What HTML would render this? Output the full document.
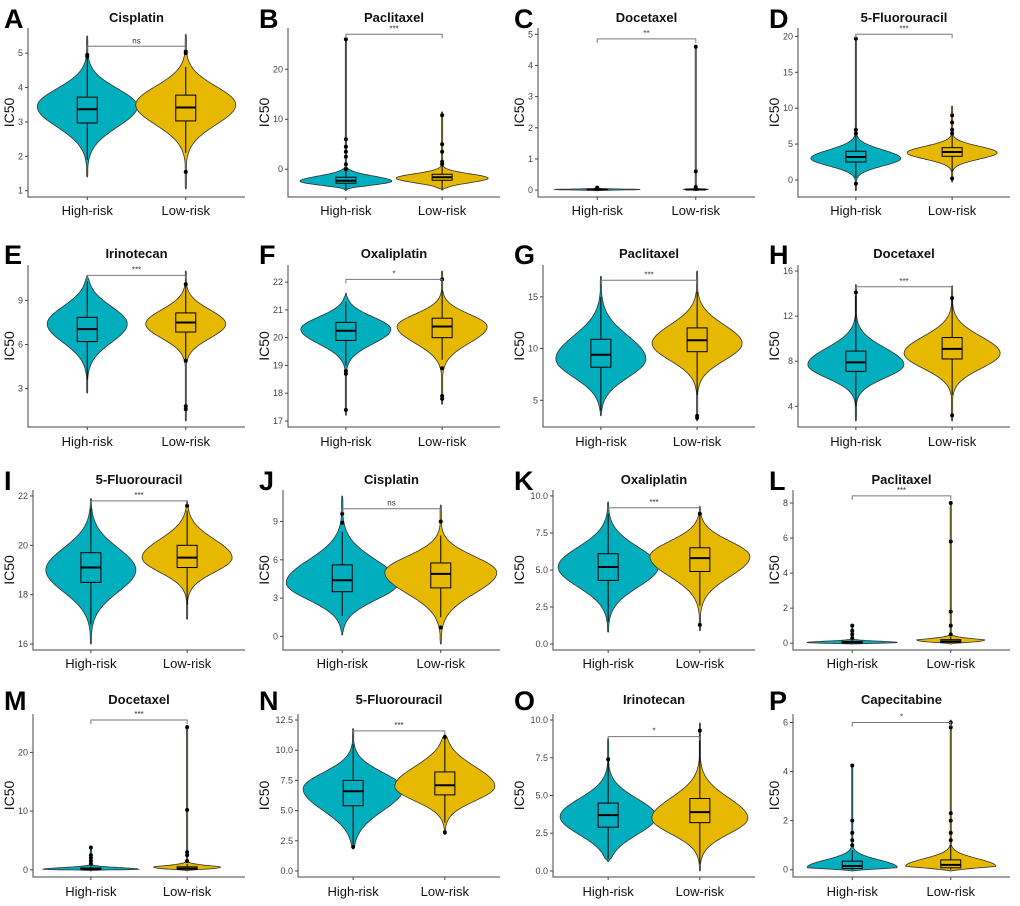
<!DOCTYPE html>
<html><head><meta charset="utf-8">
<style>
html,body{margin:0;padding:0;background:#fff;}
svg{display:block;font-family:"Liberation Sans",Arial,sans-serif;}
</style></head>
<body>
<svg id="fig" width="1020" height="906" viewBox="0 0 1020 906" xmlns="http://www.w3.org/2000/svg"></svg>
<script>
const letters = ["A","B","C","D","E","F","G","H","I","J","K","L","M","N","O","P"];
const titles = ["Cisplatin","Paclitaxel","Docetaxel","5-Fluorouracil","Irinotecan","Oxaliplatin","Paclitaxel","Docetaxel","5-Fluorouracil","Cisplatin","Oxaliplatin","Paclitaxel","Docetaxel","5-Fluorouracil","Irinotecan","Capecitabine"];
const categories = ["High-risk","Low-risk"];
const sigLabels = ["ns","***","**","***","***","*","***","***","***","ns","***","***","***","***","*","*"];
const bracketVals = [5.2,27,4.85,20.3,10.7,22.1,16.6,14.6,21.8,10,9.2,8.4,25.5,11.6,8.9,6.0];
const tickVals = [[1,2,3,4,5],[0,10,20],[0,1,2,3,4,5],[0,5,10,15,20],[3,6,9],[17,18,19,20,21,22],[5,10,15],[4,8,12,16],[16,18,20,22],[0,3,6,9],[0,2.5,5,7.5,10],[0,2,4,6,8],[0,10,20],[0,2.5,5,7.5,10,12.5],[0,2.5,5,7.5,10],[0,2,4,6]];
const tickLabels = [["1","2","3","4","5"],["0","10","20"],["0","1","2","3","4","5"],["0","5","10","15","20"],["3","6","9"],["17","18","19","20","21","22"],["5","10","15"],["4","8","12","16"],["16","18","20","22"],["0","3","6","9"],["0.0","2.5","5.0","7.5","10.0"],["0","2","4","6","8"],["0","10","20"],["0.0","2.5","5.0","7.5","10.0","12.5"],["0.0","2.5","5.0","7.5","10.0"],["0","2","4","6"]];
// High-risk group
const hiExt = [[1.4,5.5],[-4.3,26],[-0.02,0.08],[-1.5,19.7],[2.7,10.7],[17.2,21.6],[3.5,17],[2.7,14.8],[16,21.9],[0.1,11],[0.8,9.6],[-0.05,1],[-0.2,3.8],[1.8,11.8],[0.6,8.8],[-0.05,4.3]];
const hiBox = [[1.9,2.97,3.37,3.72,4.85],[-4,-2.8,-2.3,-1.6,-0.4],[0,0.01,0.02,0.03,0.05],[0.3,2.5,3.2,4.0,6.2],[3.6,6.2,7.05,7.85,10.3],[19.0,19.9,20.25,20.55,21.3],[4,8.2,9.4,10.9,15],[4,7.1,7.9,8.9,13.8],[16.8,18.5,19.1,19.7,21.5],[1.6,3.5,4.4,5.6,8.2],[1.5,4.3,5.2,6.1,8.8],[0,0.02,0.05,0.1,0.2],[0,0.05,0.1,0.3,0.6],[2.2,5.4,6.6,7.5,10.5],[0.8,2.9,3.7,4.5,7.3],[0,0.05,0.15,0.35,0.8]];
const hiMode = [3.45,-2.4,0.02,3.0,7.4,20.3,9.0,7.7,19.0,4.2,5.2,0.04,0.08,6.8,3.6,0.1];
const hiOut = [[4.9,4.95],[0,1,2.5,3.5,4.5,6,26],[0.06,0.08],[6.5,7,19.7,-0.5],[],[18.8,18.7,17.4],[],[14.1],[],[8.9,9.6],[],[0.3,0.5,0.7,1],[1,1.5,2,2.5,3.8],[2],[7.4],[1,1.2,1.5,2,4.25]];
// Low-risk group
const loExt = [[1.05,5.55],[-4.2,11.5],[-0.02,4.65],[-0.3,10.3],[0.8,11.0],[17.6,22.4],[3,17.5],[2.7,14.7],[17,21.8],[-0.6,10.3],[0.9,9.3],[-0.05,8],[-0.2,24.5],[3,11.3],[0,9.8],[-0.05,6.1]];
const loBox = [[2.1,3.03,3.42,3.78,4.6],[-4,-2.2,-1.6,-1.0,0.6],[0,0.01,0.02,0.03,0.05],[1.2,3.3,3.9,4.5,6.3],[4.9,6.85,7.5,8.15,10.1],[19.2,20.0,20.4,20.7,21.7],[5.5,9.7,10.8,12,15.5],[5,8.2,9.1,10.1,13.5],[17.6,19.1,19.5,20,21.4],[1.5,3.8,4.9,5.75,7.9],[2.6,4.9,5.8,6.5,8.7],[0,0.05,0.1,0.2,0.35],[0,0.1,0.2,0.5,1],[4,6.3,7.1,8.2,11],[0.5,3.2,3.9,4.8,9],[0,0.08,0.2,0.4,1]];
const loMode = [3.5,-1.8,0.02,3.8,7.4,20.4,10.5,8.7,19.5,5.0,5.9,0.08,0.15,7.0,3.5,0.15];
const loOut = [[5.0,5.05,1.55],[1,1.5,3.5,5,10.8],[0.1,0.6,4.6],[6.5,7,8,9,0.2],[10.1,4.9,1.8,1.6],[18.9,17.9,17.8,22.1],[3.5,3.3],[3.2,13.6],[21.6],[0.7,9.0],[8.8,1.3],[0.5,1,1.8,5.8,8],[1.5,2.5,3,10.2,24.3],[3.2,11.1],[9.3],[1.2,1.5,2,2.3,5.8,6.0]];

// layout (not data)
const colX = [0,255,510,765];
const rowTitleY = [22,258,484,704];
const rowTop = [28,265,490,714];
const rowBottom = [197,427,650,877];
const rowLabelY = [215,446,668,896];
const maxHalf = [50,46,43,45,40,45,45,48,45,56,50,45,48,50,48,45];
const fills = ["#00AEBE","#E6B800"];

const NS = "http://www.w3.org/2000/svg";
const svg = document.getElementById("fig");
function mk(tag, attrs, parent){
  const e = document.createElementNS(NS, tag);
  for (const k in attrs) e.setAttribute(k, attrs[k]);
  (parent||svg).appendChild(e);
  return e;
}

for (let p = 0; p < 16; p++) {
  const col = p % 4, row = Math.floor(p / 4);
  const ox = colX[col];
  const g = mk("g", {});
  
  

  const maxLen = Math.max(...tickLabels[p].map(s => s.length));
  const left = ox + 23 + 5 * maxLen;
  const right = ox + 245;
  const top = rowTop[row], bottom = rowBottom[row];

  let dmin = Math.min(hiExt[p][0], loExt[p][0], ...hiOut[p], ...loOut[p], tickVals[p][0]);
  let dmax = Math.max(hiExt[p][1], loExt[p][1], bracketVals[p], tickVals[p][tickVals[p].length - 1]);
  const span = dmax - dmin;
  dmax += span * 0.04; dmin -= span * 0.04;
  const yS = v => bottom - (v - dmin) / (dmax - dmin) * (bottom - top);
  const xS = i => left + (right - left) * (i === 0 ? 0.273 : 0.727);

  const lt = mk("text", {x: ox + 4, y: rowTitleY[row] + 6, "font-size": 27, "font-weight": "bold", fill: "#000"}, g);
  lt.textContent = letters[p];
  
  
  const tt = mk("text", {x: (left + right) / 2, y: rowTitleY[row], "font-size": 13, "font-weight": "bold", "text-anchor": "middle", fill: "#111"}, g);
  tt.textContent = titles[p];
  
  

  const ax = mk("path", {d: `M${left},${top}V${bottom}H${right}`, stroke: "#444", "stroke-width": 1, fill: "none"}, g);
  
  

  tickVals[p].forEach((v, k) => {
    const y = yS(v);
    mk("line", {x1: left - 3, x2: left, y1: y, y2: y, stroke: "#444"}, g);
    const t = mk("text", {x: left - 5, y: y + 3, "font-size": 9, "text-anchor": "end", fill: "#444"}, g);
    t.textContent = tickLabels[p][k];
    
    
  });
  const yt = mk("text", {x: 0, y: 0, "font-size": 14, "text-anchor": "middle", fill: "#111", transform: `translate(${ox + 14},${(top + bottom) / 2}) rotate(-90)`}, g);
  yt.textContent = "IC50";
  
  

  const groups = [
    {ext: hiExt[p], box: hiBox[p], mode: hiMode[p], out: hiOut[p]},
    {ext: loExt[p], box: loBox[p], mode: loMode[p], out: loOut[p]}
  ];
  groups.forEach((gr, i) => {
    const cx = xS(i);
    mk("line", {x1: cx, x2: cx, y1: bottom, y2: bottom + 3, stroke: "#444"}, g);
    const xl = mk("text", {x: cx, y: rowLabelY[row], "font-size": 13, "text-anchor": "middle", fill: "#111"}, g);
    xl.textContent = categories[i];
    
    

    const [lo, hi] = gr.ext;
    const sLo = Math.max((gr.box[2] - gr.box[1]) / 0.674, 1e-6);
    const sHi = Math.max((gr.box[3] - gr.box[2]) / 0.674, 1e-6);
    const N = 200, W = maxHalf[p];
    const ptsL = [], ptsR = [];
    for (let k = 0; k <= N; k++) {
      const v = lo + (hi - lo) * k / N;
      const z = v < gr.mode ? (v - gr.mode) / sLo : (v - gr.mode) / sHi;
      let d = Math.max(Math.exp(-0.5 * z * z), 0.012);
      const edge = Math.min(v - lo, hi - v) / ((hi - lo) * 0.03 + 1e-9);
      d *= Math.min(1, Math.max(edge, 0));
      const hw = Math.max(W * d, (k === 0 || k === N) ? 0 : 0.5);
      const y = yS(v);
      ptsL.push([cx - hw, y]); ptsR.push([cx + hw, y]);
    }
    const path = "M" + ptsL.map(q => q[0].toFixed(1) + "," + q[1].toFixed(1)).join("L") + "L" + ptsR.reverse().map(q => q[0].toFixed(1) + "," + q[1].toFixed(1)).join("L") + "Z";
    const vp = mk("path", {d: path, fill: fills[i], stroke: "#333", "stroke-width": 0.8}, g);
    
    

    const [wl, q1, md, q3, wh] = gr.box;
    const bw = 10;
    mk("line", {x1: cx, x2: cx, y1: yS(wl), y2: yS(q1), stroke: "#000", "stroke-width": 1}, g);
    mk("line", {x1: cx, x2: cx, y1: yS(q3), y2: yS(wh), stroke: "#000", "stroke-width": 1}, g);
    const br = mk("rect", {x: cx - bw, y: yS(q3), width: 2 * bw, height: Math.max(yS(q1) - yS(q3), 0.5), fill: fills[i], stroke: "#000", "stroke-width": 1}, g);
    
    
    mk("line", {x1: cx - bw, x2: cx + bw, y1: yS(md), y2: yS(md), stroke: "#000", "stroke-width": 2}, g);
    gr.out.forEach(v => {
      const c = mk("circle", {cx: cx, cy: yS(v), r: 2, fill: "#000"}, g);
      
      
    });
  });

  const by = yS(bracketVals[p]);
  const bp = mk("path", {d: `M${xS(0)},${by + 4}V${by}H${xS(1)}V${by + 4}`, stroke: "#777", "stroke-width": 1, fill: "none"}, g);
  
  
  const st = mk("text", {x: (xS(0) + xS(1)) / 2, y: by - 3, "font-size": 8, "text-anchor": "middle", fill: "#333"}, g);
  st.textContent = sigLabels[p];
  
  
}
</script>
</body></html>
